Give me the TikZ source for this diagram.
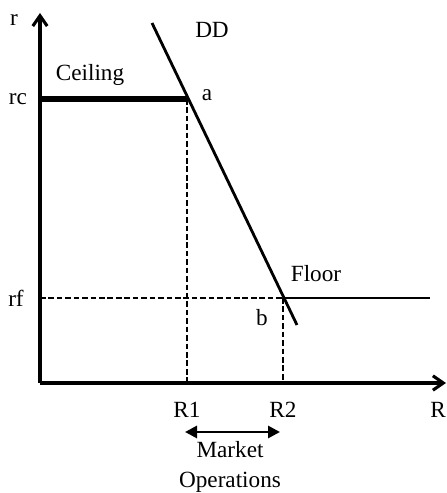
\documentclass[tikz,border=0pt]{standalone}
\usepackage{fontspec}
\setmainfont{Liberation Serif}
\usetikzlibrary{arrows.meta, positioning}

\begin{document}
\begin{tikzpicture}[font=\fontsize{16.5}{19}\selectfont]
\useasboundingbox (0,0) rectangle (11.175,12.325);
% axes
\coordinate (O) at (1,2.75);
\coordinate (ytop) at (1,12.0);
\coordinate (xend) at (11.15,2.75);
\draw[line width=2.2pt, -{Straight Barb[length=2.6mm, width=3.6mm]}] (O) -- (ytop);
\draw[line width=2.2pt, -{Straight Barb[length=2.6mm, width=3.6mm]}] (O) -- (xend);
\node (rlabel) at (0.35,11.825) {r};
\node (Rlabel) at (10.95,2.075) {R};

% key points
\coordinate (rcax) at (1,9.85);
\coordinate (rfax) at (1,4.875);
\coordinate (a) at (4.675,9.85);
\coordinate (b) at (7.075,4.875);
\coordinate (R1ax) at (4.675,2.75);
\coordinate (R2ax) at (7.075,2.75);
\coordinate (floorend) at (10.75,4.875);

% ceiling and floor
\draw[line width=3.6pt] (rcax) -- (a);
\draw[line width=1.9pt] (b) -- (floorend);
\draw[line width=1.8pt, dash pattern=on 4pt off 2pt] (rfax) -- (b);
\draw[line width=1.8pt, dash pattern=on 4pt off 2pt] (a) -- (R1ax);
\draw[line width=1.8pt, dash pattern=on 4pt off 2pt] (b) -- (R2ax);

% demand curve
\coordinate (ddtop) at (3.8,11.75);
\coordinate (ddbot) at (7.425,4.2);
\draw[line width=2pt] (ddtop) -- (ddbot);

% labels
\node (rc) at (0.45,9.85) {rc};
\node (rf) at (0.4,4.875) {rf};
\node (ceiling) at (2.25,10.45) {Ceiling};
\node (alabel) at (5.175,9.95) {a};
\node (dd) at (5.3,11.575) {DD};
\node (floor) at (7.9,5.475) {Floor};
\node (blabel) at (6.55,4.375) {b};
\node (R1) at (4.675,2.075) {R1};
\node (R2) at (7.075,2.075) {R2};

% market operations
\coordinate (mleft) at (4.625,1.525);
\coordinate (mright) at (7.0,1.525);
\draw[line width=2pt, {Triangle[length=3mm, width=3mm]}-{Triangle[length=3mm, width=3mm]}] (mleft) -- (mright);
\node[align=center] (market) at (5.75,0.65) {Market\\[2pt]Operations};
\end{tikzpicture}
\end{document}
